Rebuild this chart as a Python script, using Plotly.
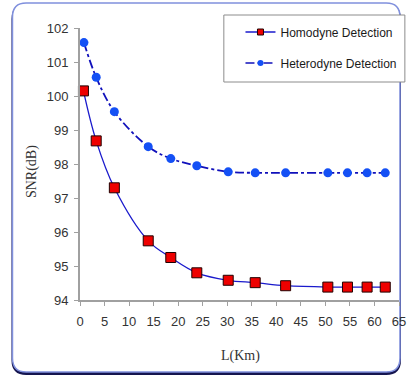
import plotly.graph_objects as go

# Data
L_homo = [0.7, 3.3, 7.0, 13.9, 18.5, 23.8, 30.2, 35.7, 41.9, 50.5, 54.5, 58.5, 62.2]
snr_homo = [100.15, 98.68, 97.30, 95.74, 95.25, 94.80, 94.58, 94.51, 94.42, 94.38, 94.38, 94.38, 94.38]
L_het = [0.8, 3.3, 7.0, 13.9, 18.5, 23.8, 30.2, 35.7, 41.9, 50.5, 54.5, 58.5, 62.2]
snr_het = [101.57, 100.55, 99.54, 98.51, 98.16, 97.95, 97.77, 97.74, 97.74, 97.74, 97.74, 97.74, 97.74]
x_ticks = [0, 5, 10, 15, 20, 25, 30, 35, 40, 45, 50, 55, 60, 65]
y_ticks = [94, 95, 96, 97, 98, 99, 100, 101, 102]

W, H = 409, 376
ML, MR, MT, MB = 80, 3, 28, 76
PW, PH = W - ML - MR, H - MT - MB


def px(xp):
    return (xp - ML) / PW


def py(yp):
    return (H - MB - yp) / PH


fig = go.Figure()

fig.add_trace(go.Scatter(
    x=L_homo, y=snr_homo, mode="lines+markers", line_shape="spline",
    line=dict(color="#1a1acc", width=1.3),
    marker=dict(symbol="square", size=10, color="#ee0000", line=dict(color="#200000", width=1)),
    showlegend=False, cliponaxis=False))
fig.add_trace(go.Scatter(
    x=L_het, y=snr_het, mode="lines+markers", line_shape="spline",
    line=dict(color="#1010bb", width=1.8, dash="dashdot"),
    marker=dict(symbol="circle", size=9, color="#1450f5"),
    showlegend=False, cliponaxis=False))

# legend entries
fig.add_trace(go.Scatter(
    x=[None], y=[None], mode="lines+markers", name="Homodyne Detection",
    line=dict(color="#1a1acc", width=1.3),
    marker=dict(symbol="square", size=6, color="#ee0000", line=dict(color="#200000", width=1)),
    legend="legend"))
fig.add_trace(go.Scatter(
    x=[None], y=[None], mode="lines+markers", name="Heterodyne Detection",
    line=dict(color="#1010bb", width=1.5, dash="dashdot"),
    marker=dict(symbol="circle", size=6, color="#1450f5"),
    legend="legend2"))


def rounded(x0, y0, x1, y1, r):
    X0, X1 = px(x0), px(x1)
    Y0, Y1 = py(y1), py(y0)  # bottom, top in paper
    rx, ry = r / PW, r / PH
    return (f"M{X0+rx},{Y1} L{X1-rx},{Y1} Q{X1},{Y1} {X1},{Y1-ry} "
            f"L{X1},{Y0+ry} Q{X1},{Y0} {X1-rx},{Y0} L{X0+rx},{Y0} "
            f"Q{X0},{Y0} {X0},{Y0+ry} L{X0},{Y1-ry} Q{X0},{Y1} {X0+rx},{Y1} Z")


shapes = [
    dict(type="path", xref="paper", yref="paper", path=rounded(11, 5, 407, 374, 14),
         line=dict(color="#15154f", width=2), fillcolor="#15154f", layer="below"),
    dict(type="path", xref="paper", yref="paper", path=rounded(11, 3, 407, 372, 14),
         line=dict(color="#8090dd", width=1.5), fillcolor="white", layer="below"),
    dict(type="rect", xref="paper", yref="paper", x0=px(227), x1=px(412), y0=py(82), y1=py(15),
         line=dict(color="#8c8c8c", width=1), fillcolor="white", layer="below"),
]

axis_common = dict(
    showgrid=False, zeroline=False, showline=True, linecolor="#a0a0a0", linewidth=2,
    ticks="outside", ticklen=4, tickcolor="#a0a0a0", tickwidth=1,
    tickfont=dict(family="Liberation Sans, Arial", size=13, color="#333333"),
)

fig.update_layout(
    width=W, height=H,
    margin=dict(l=ML, r=MR, t=MT, b=MB),
    paper_bgcolor="white", plot_bgcolor="rgba(0,0,0,0)",
    xaxis=dict(range=[0, 65], tickvals=x_ticks, ticklabelstandoff=4,
               ticklabeloverflow="allow", **axis_common),
    yaxis=dict(range=[94, 102], tickvals=y_ticks, ticklabelstandoff=3, **axis_common),
    shapes=shapes,
    legend=dict(x=px(244), y=py(32), xanchor="left", yanchor="middle", bgcolor="rgba(0,0,0,0)",
                font=dict(family="Liberation Sans, Arial", size=12, color="#1a1a1a")),
    legend2=dict(x=px(244), y=py(63), xanchor="left", yanchor="middle", bgcolor="rgba(0,0,0,0)",
                 font=dict(family="Liberation Sans, Arial", size=12, color="#1a1a1a")),
    annotations=[
        dict(text="SNR(dB)", xref="paper", yref="paper", x=px(31), y=py(172), showarrow=False,
             xanchor="center", yanchor="middle",
             textangle=-90, font=dict(family="Liberation Serif, Times New Roman", size=14, color="#333333")),
        dict(text="L(Km)", xref="paper", yref="paper", x=px(244), y=py(356), showarrow=False,
             xanchor="center", yanchor="middle",
             font=dict(family="Liberation Serif, Times New Roman", size=14, color="#333333")),
    ],
)

fig.write_html("out.html", config={"displayModeBar": False},
               post_script="document.body.style.margin='0';document.body.style.overflow='hidden';")
